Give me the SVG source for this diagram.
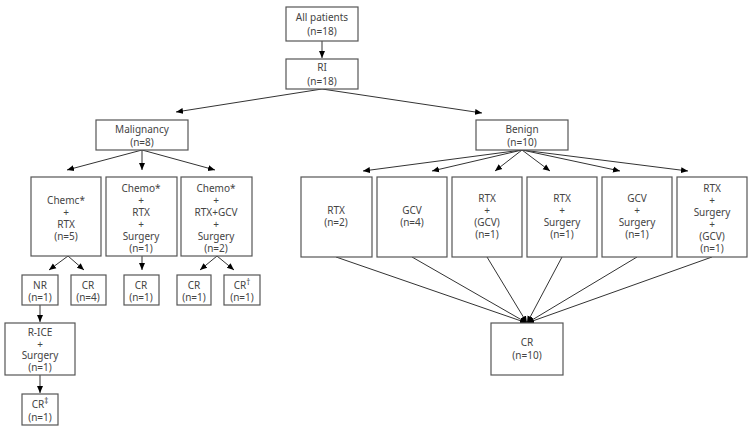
<svg xmlns="http://www.w3.org/2000/svg" width="755" height="432" viewBox="0 0 755 432">
<defs>
<marker id="ah" markerWidth="8" markerHeight="8" refX="7" refY="4" orient="auto" markerUnits="userSpaceOnUse"><path d="M0,1 L7,4 L0,7 Z" fill="#000"/></marker>
<style>
rect{fill:#fff;stroke:#555;stroke-width:1.2}
text{font-family:"Noto Sans","DejaVu Sans",sans-serif;font-size:10px;fill:#444;text-anchor:middle}
.c line{stroke:#333;stroke-width:1;marker-end:url(#ah)}
</style>
</defs>
<rect x="0" y="0" width="755" height="432" style="fill:#fff;stroke:none"/>
<g class="c">
<line x1="322" y1="41" x2="322" y2="58"/>
<line x1="322" y1="89" x2="176" y2="112"/>
<line x1="322" y1="89" x2="482" y2="113"/>
<line x1="142" y1="150" x2="67" y2="170"/>
<line x1="142" y1="150" x2="142" y2="170"/>
<line x1="142" y1="150" x2="215" y2="170"/>
<line x1="68" y1="256" x2="49" y2="270"/>
<line x1="68" y1="256" x2="84" y2="270"/>
<line x1="142" y1="256" x2="142" y2="270"/>
<line x1="217" y1="256" x2="200" y2="270"/>
<line x1="217" y1="256" x2="234" y2="270"/>
<line x1="40" y1="305" x2="40" y2="322"/>
<line x1="40" y1="375" x2="40" y2="393"/>
<line x1="522" y1="150" x2="363" y2="171"/>
<line x1="522" y1="150" x2="432" y2="171"/>
<line x1="522" y1="150" x2="495" y2="171"/>
<line x1="522" y1="150" x2="550" y2="171"/>
<line x1="522" y1="150" x2="620" y2="171"/>
<line x1="522" y1="150" x2="688" y2="171"/>
<line x1="336" y1="257" x2="527" y2="323"/>
<line x1="412" y1="257" x2="527" y2="323"/>
<line x1="487" y1="257" x2="527" y2="323"/>
<line x1="562" y1="257" x2="527" y2="323"/>
<line x1="637" y1="257" x2="527" y2="323"/>
<line x1="712" y1="257" x2="527" y2="323"/>
</g>
<g id="all"><rect x="286" y="7" width="72" height="34"/><text x="322" y="21">All patients</text><text x="322" y="35">(n=18)</text></g>
<g id="ri"><rect x="286" y="59" width="72" height="30"/><text x="322" y="71">RI</text><text x="322" y="85">(n=18)</text></g>
<g id="mal"><rect x="96" y="120" width="92" height="30"/><text x="142" y="133">Malignancy</text><text x="142" y="146">(n=8)</text></g>
<g id="ben"><rect x="476" y="120" width="92" height="30"/><text x="522" y="133">Benign</text><text x="522" y="146">(n=10)</text></g>
<g id="m1"><rect x="31" y="177" width="70" height="79"/><text x="66" y="204">Chemc*</text><text x="66" y="216">+</text><text x="66" y="228">RTX</text><text x="66" y="240">(n=5)</text></g>
<g id="m2"><rect x="106" y="177" width="71" height="79"/><text x="141" y="192">Chemo*</text><text x="141" y="204">+</text><text x="141" y="216">RTX</text><text x="141" y="228">+</text><text x="141" y="240">Surgery</text><text x="141" y="252">(n=1)</text></g>
<g id="m3"><rect x="181" y="177" width="71" height="79"/><text x="216" y="192">Chemo*</text><text x="216" y="204">+</text><text x="216" y="216">RTX+GCV</text><text x="216" y="228">+</text><text x="216" y="240">Surgery</text><text x="216" y="252">(n=2)</text></g>
<g id="nr"><rect x="22" y="275" width="36" height="30"/><text x="40" y="289">NR</text><text x="40" y="301">(n=1)</text></g>
<g id="cr4"><rect x="71" y="275" width="35" height="30"/><text x="88" y="289">CR</text><text x="88" y="301">(n=4)</text></g>
<g id="cr1b"><rect x="124" y="275" width="35" height="30"/><text x="141" y="289">CR</text><text x="141" y="301">(n=1)</text></g>
<g id="cr1c"><rect x="177" y="275" width="34" height="30"/><text x="194" y="289">CR</text><text x="194" y="301">(n=1)</text></g>
<g id="cr1d"><rect x="224" y="275" width="36" height="30"/><text x="242" y="289">CR<tspan font-size="8" dy="-4">†</tspan></text><text x="242" y="301">(n=1)</text></g>
<g id="rice"><rect x="5" y="323" width="70" height="52"/><text x="40" y="336">R-ICE</text><text x="40" y="348">+</text><text x="40" y="359">Surgery</text><text x="40" y="371">(n=1)</text></g>
<g id="crdd"><rect x="22" y="394" width="36" height="31"/><text x="40" y="408">CR<tspan font-size="8" dy="-4">‡</tspan></text><text x="40" y="421">(n=1)</text></g>
<g id="b1"><rect x="301" y="177" width="71" height="80"/><text x="336" y="214">RTX</text><text x="336" y="226">(n=2)</text></g>
<g id="b2"><rect x="377" y="177" width="70" height="80"/><text x="412" y="214">GCV</text><text x="412" y="226">(n=4)</text></g>
<g id="b3"><rect x="452" y="177" width="70" height="80"/><text x="487" y="202">RTX</text><text x="487" y="214">+</text><text x="487" y="226">(GCV)</text><text x="487" y="238">(n=1)</text></g>
<g id="b4"><rect x="527" y="177" width="70" height="80"/><text x="562" y="202">RTX</text><text x="562" y="214">+</text><text x="562" y="226">Surgery</text><text x="562" y="238">(n=1)</text></g>
<g id="b5"><rect x="602" y="177" width="70" height="80"/><text x="637" y="202">GCV</text><text x="637" y="214">+</text><text x="637" y="226">Surgery</text><text x="637" y="238">(n=1)</text></g>
<g id="b6"><rect x="677" y="177" width="70" height="80"/><text x="712" y="192">RTX</text><text x="712" y="204">+</text><text x="712" y="216">Surgery</text><text x="712" y="228">+</text><text x="712" y="240">(GCV)</text><text x="712" y="252">(n=1)</text></g>
<g id="crb"><rect x="491" y="323" width="72" height="52"/><text x="527" y="346">CR</text><text x="527" y="359">(n=10)</text></g>
</svg>
